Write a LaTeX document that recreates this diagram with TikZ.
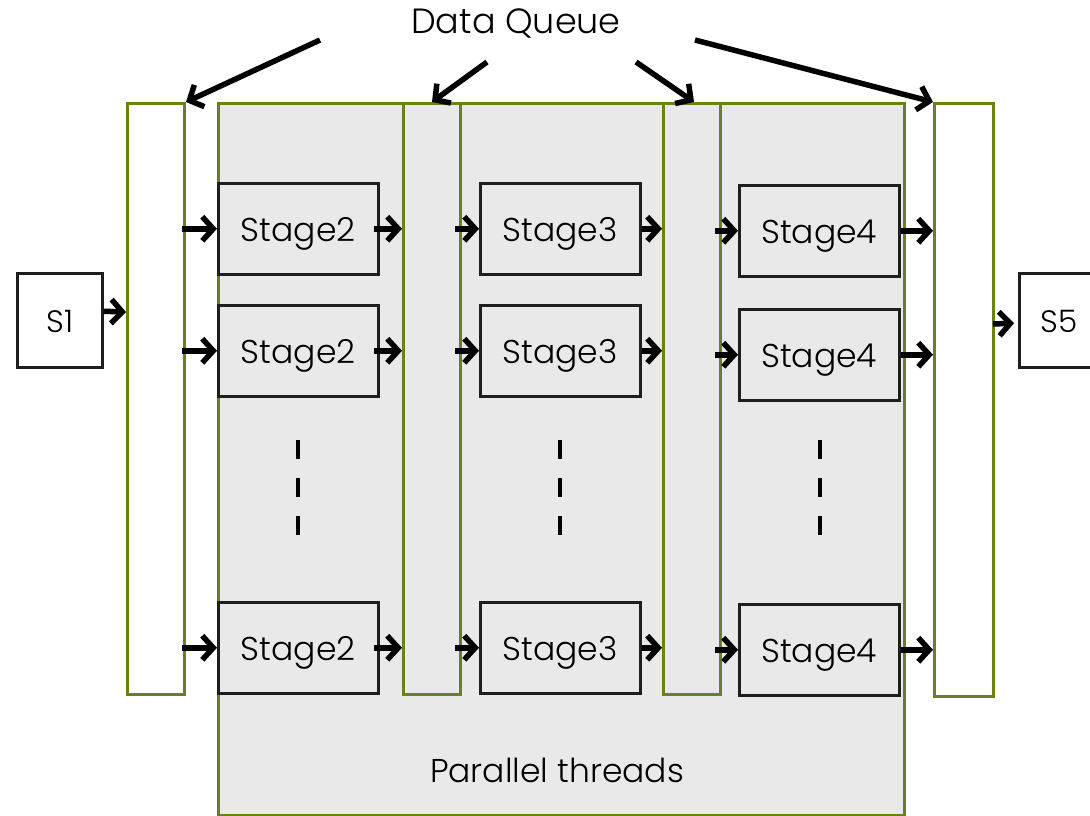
\documentclass[tikz,border=0pt]{standalone}
\usepackage{fontspec}
\setmainfont{Poppins}[UprightFont=* Light]
\usetikzlibrary{arrows.meta,calc}
\definecolor{olive}{RGB}{107,127,31}
\definecolor{panelgrey}{RGB}{233,233,234}
\definecolor{boxline}{RGB}{30,30,30}
\tikzset{
  panel/.style={draw=olive, line width=3pt, fill=panelgrey, anchor=north west, inner sep=0pt},
  queue/.style={draw=olive, line width=3pt, anchor=north west, inner sep=0pt,
    minimum width=57pt, minimum height=591pt},
  stagebox/.style={draw=boxline, line width=2.5pt, fill=panelgrey, anchor=north west, inner sep=0pt,
    minimum width=160pt, minimum height=91pt, text height=26pt, text depth=0pt,
    font=\fontsize{33}{38}\selectfont},
  endbox/.style={draw=boxline, line width=2.5pt, fill=white, anchor=north west, inner sep=0pt,
    minimum width=85pt, minimum height=94pt, text height=24pt, text depth=0pt,
    font=\fontsize{31}{36}\selectfont},
  flow/.style={line width=5.5pt, -{Straight Barb[length=11pt,width=24pt,line width=5.5pt]}},
  vdots/.style={line width=4pt, dash pattern=on 19pt off 19pt},
  lbl/.style={font=\fontsize{33}{38}\selectfont, inner sep=0pt}
}
\begin{document}
\begin{tikzpicture}[x=1pt,y=-1pt]
\useasboundingbox (0,0) rectangle (1090,816);

% parallel-thread panel
\node[panel, minimum width=686pt, minimum height=712pt] (par) at (217,102) {};
\node[lbl] (plabel) at (557,770) {Parallel threads};

% data queues
\node[queue, fill=white] (q1) at (126,102) {};
\node[queue, fill=panelgrey] (q2) at (402,102) {};
\node[queue, fill=panelgrey] (q3) at (662,102) {};
\node[queue, fill=white, minimum width=59pt, minimum height=593pt] (q4) at (933,102) {};

% source and sink stages
\node[endbox] (s1) at (16,272) {S1};
\node[endbox, minimum width=80pt] (s5) at (1018,272) {S5};

% stage boxes: columns 2, 3, 4; rows a, b, c
\foreach \c/\x/\yo in {2/217/0,3/479/0,4/738/2}{
  \node[stagebox] (st\c a) at (\x,182+\yo) {Stage\c};
  \node[stagebox] (st\c b) at (\x,304+\yo*2) {Stage\c};
  \node[stagebox] (st\c c) at (\x,601+\yo) {Stage\c};
}

% vertical ellipsis between the rows
\foreach \x in {298,560,820}{
  \draw[vdots] (\x,440) -- (\x,540);
}

% flow through the pipeline
\foreach \r in {a,b,c}{
  \draw[flow] ($(q1.east |- st2\r.west)+(-4,0)$) -- (st2\r.west);
  \draw[flow] ($(st2\r.east)+(-6,0)$) -- (q2.west |- st2\r.west);
  \draw[flow] ($(q2.east |- st3\r.west)+(-7,0)$) -- (st3\r.west);
  \draw[flow] ($(st3\r.east)+(0,0)$) -- (q3.west |- st3\r.west);
  \draw[flow] ($(q3.east |- st4\r.west)+(-7,0)$) -- (st4\r.west);
  \draw[flow] ($(st4\r.east)+(0,0)$) -- (q4.west |- st4\r.west);
}
\draw[flow] ($(s1.east)+(0,-9)$) -- ($(q1.west)+(0,-87)$);
\draw[flow] ($(q4.east)+(-2,-76)$) -- ($(s5.west)+(-4,3)$);

% data queue label and pointers
\node[lbl, font=\fontsize{35}{40}\selectfont] (dq) at (516,24) {Data Queue};
\coordinate (p1) at (320,40);
\coordinate (p2) at (487,62);
\coordinate (p3) at (636,62);
\coordinate (p4) at (695,40);
\draw[flow] (p1) -- (q1.north east);
\draw[flow] (p2) -- ($(q2.north)+(0,0)$);
\draw[flow] (p3) -- ($(q3.north)+(2,0)$);
\draw[flow] (p4) -- (q4.north west);
\end{tikzpicture}
\end{document}
